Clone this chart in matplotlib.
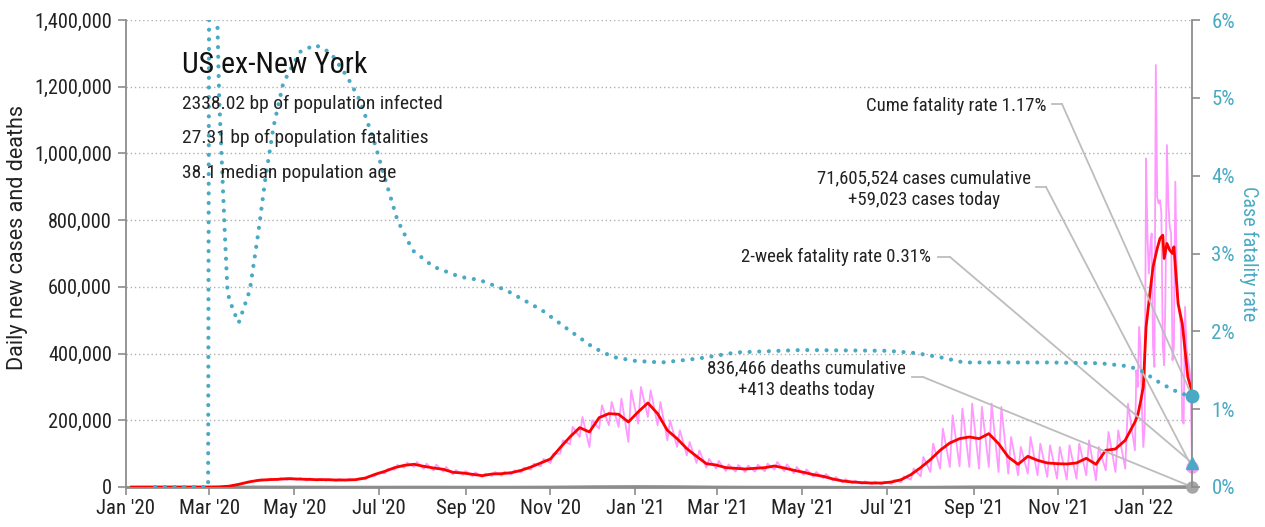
import matplotlib
matplotlib.use('Agg')
import matplotlib.pyplot as plt
from matplotlib import font_manager
from matplotlib.lines import Line2D
import matplotlib.dates as mdates
import pandas as pd

# ---------------- fonts ----------------
names = {f.name for f in font_manager.fontManager.ttflist}
FONT = 'DejaVu Sans'
for cand in ['Roboto Condensed', 'Liberation Sans Narrow', 'Open Sans Condensed', 'Liberation Sans']:
    if cand in names:
        FONT = cand
        break
FONT_WIDE = 'Roboto' if 'Roboto' in names else FONT
plt.rcParams['font.family'] = [FONT, 'DejaVu Sans']

# ---------------- data (thousands of cases) ----------------
week_start = '2020-01-05'   # Sundays, weekly
cases_avg_weekly = [0, 0, 0, 0, 0, 0, 0, 0, 0.1, 0.4,
                    2.5, 8, 15, 20, 22, 23, 25, 24, 23, 22,
                    22, 21, 21, 22, 27, 38, 47, 58, 65, 68,
                    62, 57, 53, 44, 42, 38, 34, 39, 40, 43,
                    50, 60, 72, 84, 118, 150, 178, 165, 208, 220,
                    218, 195, 225, 252, 220, 170, 145, 115, 92, 70,
                    66, 58, 56, 54, 56, 58, 63, 57, 50, 44,
                    37, 32, 24, 18, 15, 13, 12, 12, 15, 22,
                    37, 58, 82, 110, 132, 145, 150, 145, 160, 130,
                    90, 68, 92, 80, 72, 70, 69, 72, 86, 68,
                    110, 114, 140, 195]
cases_daily_hi = [0, 0, 0, 0, 0, 0, 0, 0, 0.2, 0.6,
                  3.5, 10, 18, 23, 25, 27, 28, 27, 26, 25,
                  24, 24, 24, 26, 31, 43, 54, 66, 73, 75,
                  70, 67, 60, 51, 48, 44, 40, 45, 46, 50,
                  58, 70, 84, 100, 140, 180, 210, 200, 245, 255,
                  265, 290, 300, 290, 255, 200, 170, 135, 110, 84,
                  78, 68, 66, 64, 67, 70, 75, 68, 60, 53,
                  45, 39, 30, 24, 19, 17, 16, 16, 21, 32,
                  55, 90, 130, 175, 215, 235, 250, 240, 250, 240,
                  150, 120, 150, 130, 125, 120, 125, 130, 140, 120,
                  165, 170, 250, 260]
cases_daily_lo = [0, 0, 0, 0, 0, 0, 0, 0, 0.05, 0.3,
                  1.8, 6, 13, 17, 19, 20, 21, 21, 19, 19,
                  19, 18, 19, 20, 23, 33, 41, 52, 58, 60,
                  54, 50, 46, 38, 36, 32, 30, 33, 34, 37,
                  43, 52, 62, 72, 100, 128, 150, 120, 175, 185,
                  180, 135, 190, 210, 185, 140, 120, 95, 72, 58,
                  55, 48, 46, 45, 46, 47, 52, 47, 41, 36,
                  30, 26, 19, 13, 11, 9, 8, 8, 9, 14,
                  22, 32, 45, 55, 60, 62, 60, 55, 60, 45,
                  40, 35, 40, 35, 30, 25, 22, 25, 35, 20,
                  50, 45, 55, 110]

# Omicron period, daily (2021-12-27 .. 2022-02-05)
late_start, late_end = '2021-12-27', '2022-02-05'
cases_daily_late = [350, 300, 480, 420, 240, 120, 180, 985, 750, 640,
                    720, 760, 420, 360, 1265, 870, 850, 860, 820, 420,
                    365, 600, 1025, 850, 780, 760, 380, 420, 915, 650,
                    560, 520, 480, 200, 190, 540, 420, 380, 360, 320,
                    59]
avg_late_dates = ['2021-12-28', '2021-12-30', '2022-01-01', '2022-01-03', '2022-01-06',
                  '2022-01-08', '2022-01-11', '2022-01-13', '2022-01-15', '2022-01-16',
                  '2022-01-18', '2022-01-20', '2022-01-22', '2022-01-23', '2022-01-26',
                  '2022-01-29', '2022-01-31', '2022-02-02', '2022-02-05']
avg_late_vals = [215, 255, 300, 480, 590, 660, 715, 745, 755, 685,
                 730, 710, 700, 720, 550, 490, 410, 330, 285]

# daily deaths (thousands), monthly level
deaths_months = ['2020-01-01', '2022-02-01']
deaths_monthly = [0, 0, 0.02, 1.3, 1.1, 0.7, 0.8, 1.0, 0.75, 0.7, 1.1, 2.2,
                  2.8, 2.2, 1.1, 0.7, 0.6, 0.35, 0.25, 0.6, 1.7, 1.6, 1.1, 1.2,
                  1.6, 2.3]
deaths_today = 0.413

# case fatality rate (%)
cfr_dates = ['2020-01-22', '2020-02-29', '2020-03-01', '2020-03-04', '2020-03-08',
             '2020-03-12', '2020-03-14', '2020-03-18', '2020-03-22', '2020-03-30',
             '2020-04-05', '2020-04-10', '2020-04-16', '2020-04-23', '2020-05-05',
             '2020-05-16', '2020-05-27', '2020-06-08', '2020-06-17', '2020-06-27',
             '2020-07-07', '2020-07-14', '2020-07-25', '2020-08-09', '2020-08-28',
             '2020-09-11', '2020-09-30', '2020-10-26', '2020-11-14', '2020-12-02',
             '2020-12-16', '2021-01-01', '2021-01-20', '2021-02-15', '2021-03-15',
             '2021-04-30', '2021-07-01', '2021-07-22', '2021-08-10', '2021-08-25',
             '2021-10-25', '2021-12-01', '2021-12-22', '2022-01-01', '2022-01-10',
             '2022-01-20', '2022-01-28', '2022-02-05']
cfr_vals = [0, 0, 9.0, 8.0, 4.97,
            3.26, 2.49, 2.27, 2.11, 2.53,
            3.26, 3.94, 4.63, 5.19, 5.59,
            5.68, 5.58, 5.27, 4.97, 4.46,
            3.85, 3.43, 3.04, 2.83, 2.70,
            2.66, 2.53, 2.27, 2.02, 1.79,
            1.67, 1.62, 1.60, 1.65, 1.73,
            1.76, 1.75, 1.72, 1.66, 1.60,
            1.60, 1.59, 1.55, 1.48, 1.37,
            1.27, 1.20, 1.17]
cfr_2week = 0.31
cfr_cume = 1.17

title = 'US ex-New York'
info_lines = ['2338.02 bp of population infected',
              '27.31 bp of population fatalities',
              '38.1 median population age']
ann_cume = 'Cume fatality rate 1.17%'
ann_cases = '71,605,524 cases cumulative\n+59,023 cases today'
ann_2wk = '2-week fatality rate 0.31%'
ann_deaths = '836,466 deaths cumulative\n+413 deaths today'

# ---------------- assemble series ----------------
K = 1000
weeks = pd.date_range(week_start, periods=len(cases_avg_weekly), freq='7D')
late_days = pd.date_range(late_start, late_end, freq='D')
pk = []
for d, lo, hi in zip(weeks, cases_daily_lo, cases_daily_hi):
    pk.append((d, lo))
    pk.append((d + pd.Timedelta(days=2), hi))
pk = [p for p in pk if p[0] < late_days[0]]
pk += list(zip(late_days, cases_daily_late))
pink = pd.Series([v * K for _, v in pk], index=[d for d, _ in pk])

avg = pd.concat([pd.Series([v * K for v in cases_avg_weekly], index=weeks),
                 pd.Series([v * K for v in avg_late_vals], index=pd.to_datetime(avg_late_dates))])

dmonths = pd.date_range(deaths_months[0], deaths_months[1], freq='MS')
deaths = pd.Series([v * K for v in deaths_monthly], index=dmonths)
end_day = late_days[-1]
deaths.loc[end_day] = deaths_today * K

cfr = pd.Series(cfr_vals, index=pd.to_datetime(cfr_dates))

# ---------------- figure ----------------
W, H = 1265, 527
TEAL = '#4aaac4'
GRAY = '#999999'
LINEGRAY = '#bdbdbd'
fig = plt.figure(figsize=(W / 100, H / 100), dpi=100)
ax = fig.add_axes([126 / W, 40 / H, (1192 - 126) / W, (487 - 20) / H])
ax2 = ax.twinx()

ax.plot(pink.index, pink.values, color='#ff99ff', lw=1.3, zorder=2)
ax.plot(deaths.index, deaths.values, color=GRAY, lw=1.5, zorder=2)
ax.plot(avg.index, avg.values, color='#ff0000', lw=2.0, zorder=3)
ax2.plot(cfr.index, cfr.values, color=TEAL, lw=3.0, linestyle=(0, (0.01, 2.3)),
         dash_capstyle='round', zorder=4)

# end markers
ax.plot([end_day], [pink.iloc[-1]], 'o', color='#ff99ff', ms=8, clip_on=False, zorder=5)
ax.plot([end_day], [deaths_today * K], 'o', color='#a6a6a6', ms=8, clip_on=False, zorder=6)
ax2.plot([end_day], [cfr_2week], '^', color=TEAL, ms=9, clip_on=False, zorder=6)
ax2.plot([end_day], [cfr_cume], 'o', color=TEAL, ms=9, clip_on=False, zorder=6)

ax.set_xlim(pd.Timestamp('2020-01-01'), end_day)
ax.set_ylim(0, 1400000)
ax2.set_ylim(0, 6)

ax.set_yticks(range(0, 1400001, 200000))
ax.set_yticklabels([f'{v:,}' for v in range(0, 1400001, 200000)])
ax2.set_yticks(range(0, 7))
ax2.set_yticklabels([f'{v}%' for v in range(0, 7)])
xt = pd.date_range('2020-01-01', '2022-01-01', freq='2MS')
ax.set_xticks(xt)
ax.set_xticklabels([d.strftime("%b '%y") for d in xt])

ax.yaxis.grid(True, linestyle=(0, (1, 2)), color='#b0b0b0', lw=1)
ax.set_axisbelow(True)

for s in ['top', 'right']:
    ax.spines[s].set_visible(False)
for s in ['top', 'left', 'bottom']:
    ax2.spines[s].set_visible(False)
ax.spines['left'].set_color('#8c8c8c')
ax.spines['left'].set_linewidth(1.3)
ax.spines['bottom'].set_color('#8c8c8c')
ax.spines['bottom'].set_linewidth(2)
ax2.spines['right'].set_color('#8c8c8c')
ax2.spines['right'].set_linewidth(1.3)

ax.tick_params(axis='y', length=6, width=1.2, color='#8c8c8c', labelsize=14.6,
               labelcolor='#222222', pad=4)
ax.tick_params(axis='x', length=6, width=1.2, color='#8c8c8c', labelsize=15,
               labelcolor='#222222', pad=3)
ax2.tick_params(axis='y', length=6, width=1.2, color='#8c8c8c', labelsize=15,
                labelcolor=TEAL, pad=8)

def fx(x):
    return x / W

def fy(y):
    return 1 - y / H

fig.text(fx(18), fy(238), 'Daily new cases and deaths', rotation=90,
         ha='center', va='center', fontsize=15.5, color='#222222', family=[FONT_WIDE, 'DejaVu Sans'])
fig.text(fx(1249), fy(254), 'Case fatality rate', rotation=270,
         ha='center', va='center', fontsize=14.5, color=TEAL)

fig.text(fx(182), fy(65), title, ha='left', va='center', fontsize=21.5, color='#111111')
for yy, line in zip([104, 138, 173], info_lines):
    fig.text(fx(182), fy(yy), line, ha='left', va='center', fontsize=14, color='#222222')

# annotations
def connector(x0, x1, y, target_ax, yval):
    fig.add_artist(Line2D([fx(x0), fx(x1)], [fy(y), fy(y)], transform=fig.transFigure,
                          color=LINEGRAY, lw=1.3))
    target_ax.annotate('', xy=(mdates.date2num(end_day), yval), xycoords='data',
                       xytext=(fx(x1), fy(y)), textcoords='figure fraction',
                       arrowprops=dict(arrowstyle='-', color=LINEGRAY, lw=1.3,
                                       shrinkA=0, shrinkB=0),
                       annotation_clip=False)

fig.text(fx(1047), fy(106), ann_cume, ha='right', va='center', fontsize=13.5, color='#222222')
connector(1052, 1062, 104, ax2, cfr_cume)

fig.text(fx(924), fy(189), ann_cases, ha='center', va='center', fontsize=13.5,
         color='#222222', linespacing=1.25, multialignment='center')
connector(1036, 1046, 187, ax, pink.iloc[-1])

fig.text(fx(931), fy(257), ann_2wk, ha='right', va='center', fontsize=13.5, color='#222222')
connector(938, 950, 257, ax2, cfr_2week)

fig.text(fx(806), fy(379), ann_deaths, ha='center', va='center', fontsize=13.5,
         color='#222222', linespacing=1.25, multialignment='center')
connector(912, 923, 377, ax, deaths_today * K)

fig.savefig('out.png', dpi=100)
